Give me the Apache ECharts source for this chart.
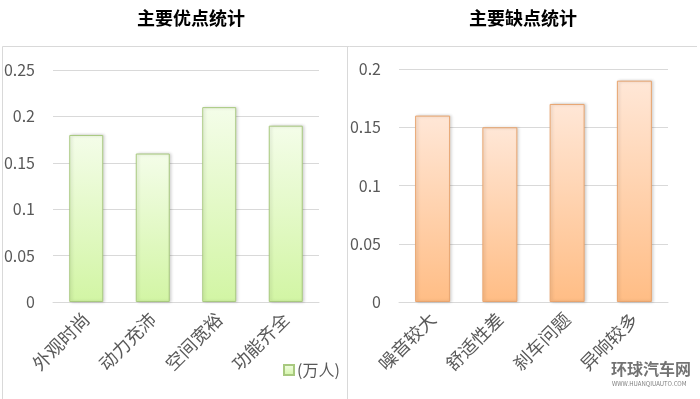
<!DOCTYPE html>
<html>
<head>
<meta charset="utf-8">
<script src="https://cdn.jsdelivr.net/npm/echarts@6/dist/echarts.min.js"></script>
<style>
  html, body { margin: 0; padding: 0; background: #fff; }
  #main { width: 700px; height: 399px; }
</style>
</head>
<body>
<div id="main"></div>
<script>
// 数据
const prosNames = ['外观时尚', '动力充沛', '空间宽裕', '功能齐全'];
const prosValues = [0.18, 0.16, 0.21, 0.19];
const consNames = ['噪音较大', '舒适性差', '刹车问题', '异响较多'];
const consValues = [0.16, 0.15, 0.17, 0.19];
const unitName = '(万人)';

const FONT = '"Noto Sans CJK SC", "Noto Sans", sans-serif';
const gray = '#595959';

const chart = echarts.init(document.getElementById('main'), null, { renderer: 'canvas' });

function grad(top, bottom) {
  return new echarts.graphic.LinearGradient(0, 0, 0, 1, [
    { offset: 0, color: top },
    { offset: 1, color: bottom }
  ]);
}

function yAxis(idx, max) {
  return {
    gridIndex: idx, type: 'value', min: 0, max: max, interval: 0.05,
    axisLine: { show: false }, axisTick: { show: false },
    splitLine: { lineStyle: { color: '#d9d9d9', width: 1 } },
    axisLabel: { color: gray, fontSize: 16, fontFamily: FONT, margin: 18 }
  };
}

function xAxis(idx, names) {
  return {
    gridIndex: idx, type: 'category', data: names,
    axisLine: { lineStyle: { color: '#d9d9d9' } }, axisTick: { show: false },
    axisLabel: { color: gray, fontSize: 18, fontFamily: FONT, rotate: 45, margin: 14, interval: 0 }
  };
}

const option = {
  animation: false,
  backgroundColor: '#fff',
  title: [
    { text: '主要优点统计', left: 186, top: 4, textAlign: 'center',
      textStyle: { fontSize: 18, fontWeight: 'bold', color: '#000', fontFamily: FONT } },
    { text: '主要缺点统计', left: 518, top: 4, textAlign: 'center',
      textStyle: { fontSize: 18, fontWeight: 'bold', color: '#000', fontFamily: FONT } }
  ],
  legend: {
    data: [unitName], left: 278, top: 357, itemWidth: 10, itemHeight: 10, itemGap: 4,
    icon: 'rect',
    textStyle: { color: gray, fontSize: 16, fontFamily: FONT, padding: [0, 0, 0, -2] }
  },
  grid: [
    { left: 53, top: 70, width: 266, height: 232 },
    { left: 399, top: 69, width: 269, height: 233 }
  ],
  xAxis: [xAxis(0, prosNames), xAxis(1, consNames)],
  yAxis: [yAxis(0, 0.25), yAxis(1, 0.2)],
  series: [
    {
      name: unitName, type: 'bar', xAxisIndex: 0, yAxisIndex: 0, data: prosValues,
      barWidth: 34,
      itemStyle: {
        color: grad('#f4fde9', '#d2f5a4'), borderColor: '#a8c97f', borderWidth: 1,
        shadowColor: 'rgba(0,0,0,0.18)', shadowBlur: 3, shadowOffsetX: 1.5
      }
    },
    {
      name: '缺点', type: 'bar', xAxisIndex: 1, yAxisIndex: 1, data: consValues,
      barWidth: 35,
      itemStyle: {
        color: grad('#ffe7d7', '#ffbd85'), borderColor: '#e8a46e', borderWidth: 1,
        shadowColor: 'rgba(0,0,0,0.18)', shadowBlur: 3, shadowOffsetX: 1.5
      }
    }
  ],
  graphic: [
    { type: 'line', shape: { x1: 2.5, y1: 46.5, x2: 697, y2: 46.5 }, style: { stroke: '#d9d9d9', lineWidth: 1 } },
    { type: 'line', shape: { x1: 2.5, y1: 46.5, x2: 2.5, y2: 399 }, style: { stroke: '#d9d9d9', lineWidth: 1 } },
    { type: 'line', shape: { x1: 347.5, y1: 46.5, x2: 347.5, y2: 399 }, style: { stroke: '#d9d9d9', lineWidth: 1 } },
    { type: 'text', left: 611, top: 361,
      style: { text: '环球汽车网', font: 'bold 16px ' + FONT, fill: 'rgba(80,80,80,0.8)' } },
    { type: 'text', left: 612, top: 381,
      style: { text: 'WWW.HUANQIUAUTO.COM', font: '6px ' + FONT, fill: 'rgba(80,80,80,0.75)' } }
  ]
};

chart.setOption(option);
</script>
</body>
</html>
